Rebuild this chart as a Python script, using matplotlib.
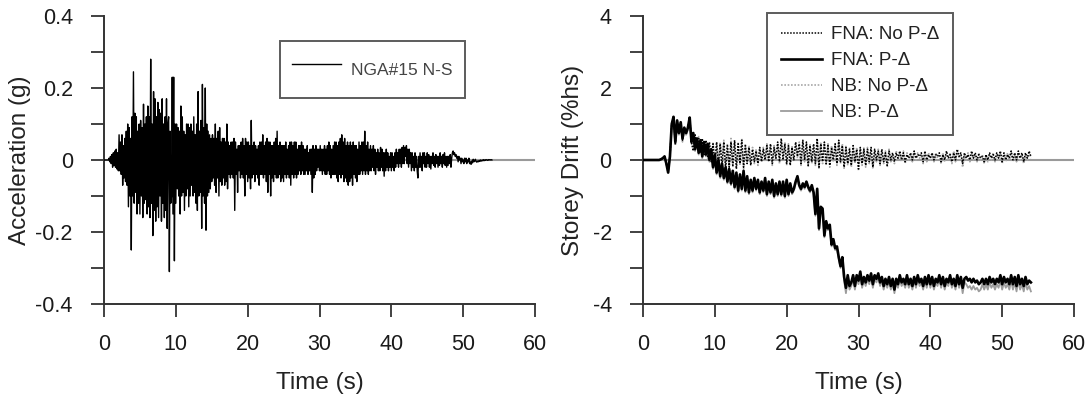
import matplotlib
matplotlib.use('Agg')
import matplotlib.pyplot as plt
import numpy as np

plt.rcParams['font.family'] = ['Liberation Sans', 'DejaVu Sans']

# ground motion NGA#15 N-S, acceleration (g), sampled every 0.1 s
acc = [
    0, 0, 0, 0, 0, 0, 0, 0.005, -0.005, 0.01,
    -0.01, 0.015, -0.02, 0.02, -0.015, 0.025, -0.02, 0.03, -0.025, 0.02,
    -0.03, 0.07, -0.03, 0.05, -0.04, 0.07, -0.07, 0.04, -0.05, 0.06,
    -0.06, 0.08, -0.07, 0.1, -0.13, 0.09, -0.1, 0.06, -0.25, 0.12,
    -0.1, 0.245, -0.12, 0.13, -0.09, 0.12, -0.15, 0.08, -0.12, 0.1,
    -0.15, 0.11, -0.1, 0.09, -0.16, 0.155, -0.12, 0.1, -0.11, 0.12,
    -0.15, 0.15, -0.13, 0.12, -0.16, 0.28, -0.12, 0.1, -0.21, 0.19,
    -0.14, 0.17, -0.17, 0.12, -0.13, 0.16, -0.16, 0.14, -0.1, 0.13,
    -0.17, 0.17, -0.12, 0.1, -0.16, 0.12, -0.14, 0.17, -0.19, 0.1,
    0.12, -0.31, 0.08, -0.12, -0.1, 0.23, -0.15, 0.23, -0.28, 0.1,
    -0.12, 0.1, -0.08, 0.09, -0.1, 0.08, -0.15, 0.15, -0.1, 0.12,
    -0.09, 0.08, -0.14, 0.07, -0.1, 0.1, -0.08, 0.1, -0.13, 0.09,
    -0.1, 0.1, -0.07, 0.08, -0.1, 0.12, -0.09, 0.07, -0.12, 0.1,
    -0.14, 0.19, -0.1, 0.08, -0.09, 0.11, -0.19, 0.21, -0.1, 0.09,
    -0.12, 0.2, -0.195, 0.1, -0.1, 0.08, -0.09, 0.07, -0.08, 0.06,
    -0.06, 0.07, -0.05, 0.06, -0.07, 0.1, -0.09, 0.06, -0.05, 0.08,
    -0.1, 0.09, -0.06, 0.05, -0.07, 0.06, -0.05, 0.06, -0.07, 0.05,
    -0.06, 0.1, -0.08, 0.05, -0.04, 0.04, -0.05, 0.05, -0.04, 0.05,
    -0.05, 0.06, -0.14, 0.05, -0.04, 0.03, -0.09, 0.04, -0.03, 0.04,
    -0.05, 0.05, -0.04, 0.06, -0.05, 0.04, -0.1, 0.06, -0.04, 0.05,
    -0.06, 0.05, -0.05, 0.04, -0.08, 0.11, -0.05, 0.04, -0.04, 0.05,
    -0.06, 0.04, -0.04, 0.03, -0.05, 0.04, -0.07, 0.05, -0.04, 0.05,
    -0.04, 0.07, -0.05, 0.04, -0.04, 0.05, -0.06, 0.06, -0.09, 0.05,
    -0.04, 0.05, -0.1, 0.04, -0.05, 0.04, -0.06, 0.05, -0.04, 0.06,
    -0.05, 0.08, -0.05, 0.04, -0.04, 0.05, -0.06, 0.04, -0.05, 0.04,
    -0.06, 0.04, -0.04, 0.05, -0.05, 0.03, -0.04, 0.04, -0.05, 0.05,
    -0.07, 0.05, -0.04, 0.04, -0.05, 0.05, -0.04, 0.05, -0.05, 0.03,
    -0.04, 0.04, -0.03, 0.04, -0.04, 0.05, -0.03, 0.04, -0.04, 0.03,
    -0.04, 0.03, -0.03, 0.04, -0.04, 0.02, -0.03, 0.03, -0.04, 0.03,
    -0.09, 0.04, -0.05, 0.03, -0.04, 0.04, -0.03, 0.03, -0.02, 0.03,
    -0.03, 0.04, -0.03, 0.03, -0.04, 0.03, -0.03, 0.04, -0.04, 0.03,
    -0.04, 0.04, -0.03, 0.05, -0.04, 0.04, -0.05, 0.03, -0.04, 0.04,
    -0.04, 0.05, -0.04, 0.05, -0.05, 0.04, -0.06, 0.05, -0.04, 0.06,
    -0.05, 0.07, -0.04, 0.05, -0.06, 0.06, -0.05, 0.04, -0.06, 0.05,
    -0.07, 0.04, -0.06, 0.05, -0.05, 0.04, -0.07, 0.05, -0.04, 0.04,
    -0.05, 0.04, -0.06, 0.03, -0.04, 0.05, -0.04, 0.04, -0.03, 0.05,
    -0.04, 0.05, -0.03, 0.08, -0.04, 0.04, -0.03, 0.05, -0.04, 0.03,
    -0.03, 0.04, -0.03, 0.03, -0.02, 0.04, -0.03, 0.03, -0.04, 0.02,
    -0.02, 0.03, -0.03, 0.02, -0.03, 0.035, -0.02, 0.03, -0.03, 0.02,
    -0.045, 0.02, -0.03, 0.03, -0.02, 0.02, -0.03, 0.01, -0.02, 0.02,
    -0.03, 0.02, -0.02, 0.01, -0.03, 0.02, -0.02, 0.03, -0.01, 0.02,
    -0.02, 0.03, -0.01, 0.03, -0.02, 0.035, -0.01, 0.04, -0.01, 0.035,
    0.01, 0.04, -0.01, 0.03, -0.02, 0.03, -0.01, 0.02, -0.03, 0.02,
    -0.02, 0.01, -0.03, 0.02, -0.02, 0.01, -0.03, -0.05, 0.01, -0.02,
    0.02, -0.02, 0.01, -0.03, 0.02, -0.01, 0.02, -0.02, 0.01, -0.02,
    0.02, -0.01, 0.015, -0.02, 0.01, -0.025, 0.01, -0.01, 0.02, -0.015,
    0.01, -0.02, 0.015, -0.01, 0.01, -0.02, 0.01, -0.015, 0.02, -0.01,
    0.01, -0.02, 0.015, -0.01, 0.02, -0.015, 0.01, -0.02, 0.01, -0.015,
    0.01, -0.01, 0.015, -0.02, 0.005, 0.02, 0.025, 0.015, 0.02, 0.01,
    0.015, 0.005, 0.01, -0.005, 0.01, 0.0, 0.005, -0.01, 0.005, -0.005,
    0.0, -0.01, 0.005, -0.005, 0.005, -0.01, 0.0, -0.005, 0.005, -0.01,
    -0.005, -0.012, -0.003, -0.008, 0.002, -0.005, -0.003, 0.002, -0.004, -0.006,
    -0.003, -0.005, -0.002, -0.004, 0.0, -0.003, -0.001, -0.002, 0.001, -0.002,
    0.0, -0.001, 0.001, 0.0, -0.001, 0.001, 0.0, 0.001, 0.0, 0.001,
    0.0,
]
acc_dt = 0.1

# storey drift (%hs), sampled every 0.25 s
fna_pd = [
    0, 0, 0, 0,  0, 0, 0, 0,  0, 0, 0.02, 0.05,
    0.1, -0.1, -0.35, 0.1,  1.0, 1.2, 0.5, 1.1,  0.75, 1.05, 0.6, 0.9,
    0.75, 0.9, 1.18, 0.5,  0.75, 0.3, 0.6, 0.2,  0.55, 0.1, 0.5, 0.15,
    0.45, 0.0, 0.3, -0.2,  0.15, -0.35, 0.0, -0.45,  -0.1, -0.5, -0.2, -0.6,
    -0.25, -0.65, -0.3, -0.75,  -0.35, -0.85, -0.4, -0.8,  -0.3, -0.85, -0.45, -0.9,
    -0.55, -0.85, -0.5, -0.8,  -0.55, -0.9, -0.6, -0.85,  -0.5, -0.95, -0.6, -0.9,
    -0.55, -1.0, -0.65, -0.95,  -0.6, -0.95, -0.6, -1.0,  -0.55, -0.95, -0.65, -0.9,
    -0.8, -0.6, -0.45, -0.7,  -0.8, -0.65, -0.75, -0.6,  -0.75, -0.85, -0.7, -0.9,
    -1.5, -0.8, -1.9, -1.3,  -1.35, -2.1, -1.7, -1.9,  -1.8, -2.35, -2.2, -2.45,
    -2.4, -2.7, -2.95, -2.7,  -3.25, -3.55, -3.2, -3.5,  -3.4, -3.2, -3.5, -3.2,
    -3.35, -3.1, -3.45, -3.25,  -3.4, -3.2, -3.35, -3.15,  -3.45, -3.2, -3.3, -3.15,
    -3.4, -3.25, -3.5, -3.3,  -3.45, -3.25, -3.5, -3.3,  -3.6, -3.3, -3.45, -3.2,
    -3.4, -3.3, -3.45, -3.2,  -3.45, -3.3, -3.5, -3.25,  -3.45, -3.2, -3.4, -3.3,
    -3.5, -3.25, -3.45, -3.2,  -3.45, -3.25, -3.5, -3.3,  -3.4, -3.2, -3.45, -3.25,
    -3.5, -3.3, -3.4, -3.2,  -3.45, -3.3, -3.5, -3.2,  -3.45, -3.25, -3.55, -3.3,
    -3.25, -3.35, -3.3, -3.4,  -3.3, -3.4, -3.35, -3.45,  -3.4, -3.3, -3.45, -3.3,
    -3.45, -3.25, -3.4, -3.3,  -3.45, -3.3, -3.4, -3.2,  -3.45, -3.25, -3.4, -3.3,
    -3.45, -3.2, -3.45, -3.25,  -3.5, -3.2, -3.45, -3.3,  -3.5, -3.25, -3.45, -3.35,
    -3.4,
]
nb_pd = [
    0, 0, 0, 0,  0, 0, 0, 0,  0, 0, 0.02, 0.05,
    0.1, -0.1, -0.33, 0.1,  0.95, 1.15, 0.45, 1.05,  0.7, 1.0, 0.55, 0.85,
    0.7, 0.85, 1.15, 0.45,  0.7, 0.25, 0.55, 0.15,  0.5, 0.05, 0.45, 0.1,
    0.4, -0.05, 0.25, -0.25,  0.1, -0.4, -0.05, -0.5,  -0.15, -0.55, -0.25, -0.65,
    -0.3, -0.7, -0.35, -0.8,  -0.4, -0.9, -0.45, -0.85,  -0.35, -0.9, -0.5, -0.95,
    -0.6, -0.9, -0.55, -0.85,  -0.6, -0.95, -0.65, -0.9,  -0.55, -1.0, -0.65, -0.95,
    -0.6, -1.05, -0.7, -1.0,  -0.65, -1.0, -0.65, -1.05,  -0.6, -1.0, -0.7, -0.95,
    -0.85, -0.65, -0.5, -0.75,  -0.85, -0.7, -0.8, -0.65,  -0.8, -0.9, -0.75, -0.95,
    -1.55, -0.85, -1.95, -1.35,  -1.4, -2.15, -1.75, -1.95,  -1.85, -2.4, -2.25, -2.5,
    -2.45, -2.75, -3.0, -2.75,  -3.35, -3.7, -3.3, -3.6,  -3.5, -3.3, -3.6, -3.3,
    -3.45, -3.2, -3.55, -3.35,  -3.5, -3.3, -3.45, -3.25,  -3.55, -3.3, -3.4, -3.25,
    -3.5, -3.35, -3.6, -3.4,  -3.55, -3.35, -3.6, -3.4,  -3.7, -3.4, -3.55, -3.3,
    -3.5, -3.4, -3.55, -3.3,  -3.55, -3.4, -3.6, -3.35,  -3.55, -3.3, -3.5, -3.4,
    -3.6, -3.35, -3.55, -3.3,  -3.55, -3.35, -3.6, -3.4,  -3.5, -3.3, -3.55, -3.35,
    -3.6, -3.4, -3.5, -3.3,  -3.55, -3.4, -3.6, -3.3,  -3.55, -3.35, -3.7, -3.4,
    -3.45, -3.55, -3.5, -3.6,  -3.5, -3.6, -3.55, -3.65,  -3.6, -3.45, -3.6, -3.45,
    -3.6, -3.4, -3.55, -3.45,  -3.6, -3.45, -3.55, -3.35,  -3.6, -3.4, -3.55, -3.45,
    -3.6, -3.35, -3.6, -3.4,  -3.65, -3.35, -3.6, -3.45,  -3.65, -3.4, -3.6, -3.5,
    -3.65,
]
fna_nopd = [
    0, 0, 0, 0,  0, 0, 0, 0,  0, 0, 0.02, 0.05,
    0.1, -0.1, -0.35, 0.1,  1.0, 1.2, 0.45, 1.1,  0.75, 1.05, 0.55, 0.9,
    0.75, 0.9, 1.18, 0.5,  0.25, 0.7, 0.35, 0.6,  0.2, 0.6, 0.15, 0.55,
    0.1, 0.5, -0.05, 0.45,  -0.1, 0.5, -0.2, 0.45,  -0.15, 0.5, -0.25, 0.4,
    -0.2, 0.5, -0.15, 0.55,  -0.25, 0.45, -0.1, 0.55,  -0.2, 0.4, -0.1, 0.35,
    -0.15, 0.3, -0.05, 0.25,  -0.1, 0.35, -0.05, 0.3,  0.0, 0.4, -0.05, 0.45,
    -0.1, 0.35, 0.05, 0.5,  -0.05, 0.6, 0.0, 0.45,  -0.1, 0.4, -0.15, 0.35,
    0.0, 0.5, 0.1, 0.45,  -0.1, 0.55, 0.0, 0.5,  -0.15, 0.4, -0.05, 0.45,
    -0.1, 0.6, -0.2, 0.45,  -0.05, 0.5, -0.1, 0.4,  -0.15, 0.35, 0.0, 0.45,
    -0.1, 0.55, -0.05, 0.4,  -0.2, 0.35, -0.1, 0.3,  -0.15, 0.4, -0.05, 0.3,
    -0.25, 0.35, -0.1, 0.3,  -0.15, 0.3, -0.05, 0.35,  -0.2, 0.3, 0.0, 0.25,
    -0.1, 0.3, -0.05, 0.2,  -0.15, 0.25, 0.0, 0.2,  -0.05, 0.2, 0.05, 0.25,
    0.0, 0.2, -0.05, 0.15,  0.05, 0.2, 0.0, 0.25,  0.05, 0.15, 0.1, 0.2,
    -0.05, 0.25, 0.0, 0.15,  0.05, 0.2, 0.0, 0.15,  0.1, 0.2, -0.05, 0.15,
    0.0, 0.25, 0.05, 0.15,  -0.05, 0.2, 0.0, 0.3,  0.1, 0.2, -0.1, 0.2,
    0.05, 0.15, 0.0, 0.25,  0.05, 0.2, 0.0, 0.15,  0.05, 0.1, -0.05, 0.15,
    0.0, 0.2, 0.05, 0.15,  0.0, 0.2, 0.05, 0.25,  -0.05, 0.2, 0.0, 0.15,
    0.05, 0.25, 0.0, 0.2,  0.0, 0.25, 0.05, 0.2,  -0.05, 0.2, 0.05, 0.25,
    0.1,
]
nb_nopd = [
    0, 0, 0, 0,  0, 0, 0, 0,  0, 0, 0.02, 0.05,
    0.1, -0.1, -0.33, 0.1,  0.95, 1.15, 0.4, 1.05,  0.7, 1.0, 0.5, 0.85,
    0.7, 0.85, 1.15, 0.45,  0.3, 0.6, 0.4, 0.65,  0.25, 0.55, 0.2, 0.5,
    0.05, 0.45, 0.0, 0.5,  -0.15, 0.45, -0.1, 0.5,  -0.2, 0.55, -0.15, 0.45,
    -0.25, 0.6, -0.2, 0.5,  -0.2, 0.5, -0.15, 0.6,  -0.25, 0.45, -0.05, 0.4,
    -0.1, 0.35, -0.1, 0.3,  -0.15, 0.3, 0.0, 0.35,  -0.05, 0.45, 0.0, 0.4,
    -0.15, 0.4, 0.0, 0.45,  -0.1, 0.55, 0.05, 0.5,  -0.15, 0.45, -0.1, 0.4,
    -0.05, 0.45, 0.05, 0.5,  -0.15, 0.5, -0.05, 0.45,  -0.2, 0.45, -0.1, 0.4,
    -0.15, 0.55, -0.25, 0.5,  -0.1, 0.45, -0.15, 0.45,  -0.2, 0.4, -0.05, 0.4,
    -0.15, 0.5, -0.1, 0.45,  -0.25, 0.4, -0.15, 0.35,  -0.2, 0.35, -0.1, 0.35,
    -0.3, 0.3, -0.15, 0.35,  -0.2, 0.35, -0.1, 0.3,  -0.25, 0.25, -0.05, 0.3,
    -0.15, 0.25, -0.1, 0.25,  -0.2, 0.3, -0.05, 0.15,  -0.1, 0.25, 0.0, 0.2,
    -0.05, 0.25, -0.1, 0.2,  0.0, 0.15, -0.05, 0.2,  0.0, 0.2, 0.05, 0.15,
    -0.1, 0.2, -0.05, 0.2,  0.0, 0.15, -0.05, 0.2,  0.05, 0.15, -0.1, 0.2,
    -0.05, 0.2, 0.0, 0.2,  -0.1, 0.25, -0.05, 0.25,  0.05, 0.15, -0.2, 0.15,
    0.0, 0.2, -0.05, 0.2,  0.0, 0.15, -0.05, 0.2,  0.0, 0.15, -0.1, 0.1,
    -0.05, 0.15, 0.0, 0.2,  -0.05, 0.15, 0.0, 0.2,  -0.1, 0.15, -0.05, 0.2,
    0.0, 0.2, -0.05, 0.15,  -0.05, 0.2, 0.0, 0.15,  -0.1, 0.15, 0.0, 0.2,
    0.05,
]
drift_dt = 0.25

x_ticks = [0, 10, 20, 30, 40, 50, 60]
acc_ticks = [-0.4, -0.2, 0, 0.2, 0.4]
acc_labels = ['-0.4', '-0.2', '0', '0.2', '0.4']
drift_ticks = [-4, -2, 0, 2, 4]
drift_labels = ['-4', '-2', '0', '2', '4']

t_acc = np.arange(len(acc)) * acc_dt
t_drift = np.arange(len(fna_pd)) * drift_dt

fig = plt.figure(figsize=(10.88, 3.97), dpi=100)
ax1 = fig.add_axes([104/1088, 93/397, 431/1088, 288/397])
ax2 = fig.add_axes([643/1088, 93/397, 431/1088, 288/397])

def style(ax, ylim, yticks, ylabels, minor_step, ylabel, ylabelpad):
    for s in ['top', 'right']:
        ax.spines[s].set_visible(False)
    for s in ['left', 'bottom']:
        ax.spines[s].set_linewidth(1.4)
        ax.spines[s].set_color('#333333')
    ax.set_xlim(0, 60)
    ax.set_ylim(*ylim)
    ax.set_xticks(x_ticks)
    ax.set_xticklabels([str(v) for v in x_ticks])
    ax.set_yticks(yticks)
    ax.set_yticklabels(ylabels)
    ax.set_yticks(np.arange(ylim[0], ylim[1] + minor_step/2, minor_step), minor=True)
    ax.tick_params(which='both', direction='out', length=9.5, width=1.3, color='#333333')
    ax.tick_params(axis='y', which='major', labelsize=15.5, pad=13, labelcolor='#1a1a1a')
    ax.tick_params(axis='x', labelsize=15.5, pad=12, labelcolor='#1a1a1a')
    ax.set_xlabel('Time (s)', fontsize=17.5, color='#222222', labelpad=12)
    ax.set_ylabel(ylabel, fontsize=17.5, color='#222222', labelpad=ylabelpad)
    ax.axhline(0, color='#9a9a9a', lw=1.5, zorder=1)

style(ax1, (-0.4, 0.4), acc_ticks, acc_labels, 0.1, 'Acceleration (g)', 3)
ax1.plot(t_acc, acc, color='black', lw=1.0, label='NGA#15 N-S', zorder=3)
leg1 = ax1.legend(loc='upper left', bbox_to_anchor=(176/431, (304-41)/288), borderaxespad=0,
                  frameon=True, fancybox=False, edgecolor='#333333', fontsize=12.5,
                  handlelength=2.8, handletextpad=0.6, handleheight=2.5, borderpad=0.7)
leg1.get_frame().set_linewidth(1.4)
for txt in leg1.get_texts():
    txt.set_color('#444444')

style(ax2, (-4, 4), drift_ticks, drift_labels, 1, 'Storey Drift (%hs)', 6)
ax2.plot(t_drift, nb_pd, color='#9c9c9c', lw=1.3, zorder=2)
ax2.plot(t_drift, nb_nopd, color='#a8a8a8', lw=1.2, ls=(0, (1, 1)), zorder=2)
ax2.plot(t_drift, fna_nopd, color='black', lw=1.1, ls=(0, (1, 1)), zorder=3)
ax2.plot(t_drift, fna_pd, color='black', lw=1.9, zorder=4)

h_fn, = ax2.plot([], [], color='black', lw=1.1, ls=(0, (1, 1)))
h_fp, = ax2.plot([], [], color='black', lw=1.9)
h_nn, = ax2.plot([], [], color='#a8a8a8', lw=1.2, ls=(0, (1, 1)))
h_np, = ax2.plot([], [], color='#9c9c9c', lw=1.3)
leg2 = ax2.legend([h_fn, h_fp, h_nn, h_np],
                  ['FNA: No P-Δ', 'FNA: P-Δ', 'NB: No P-Δ', 'NB: P-Δ'],
                  loc='upper left', bbox_to_anchor=(124/431, (304-12.7)/288), borderaxespad=0,
                  frameon=True, fancybox=False, edgecolor='#333333', fontsize=13.5,
                  handlelength=2.2, handletextpad=0.5, labelspacing=0.47, borderpad=0.72)
leg2.get_frame().set_linewidth(1.4)
for txt in leg2.get_texts():
    txt.set_color('#222222')

fig.savefig('out.png', dpi=100)
